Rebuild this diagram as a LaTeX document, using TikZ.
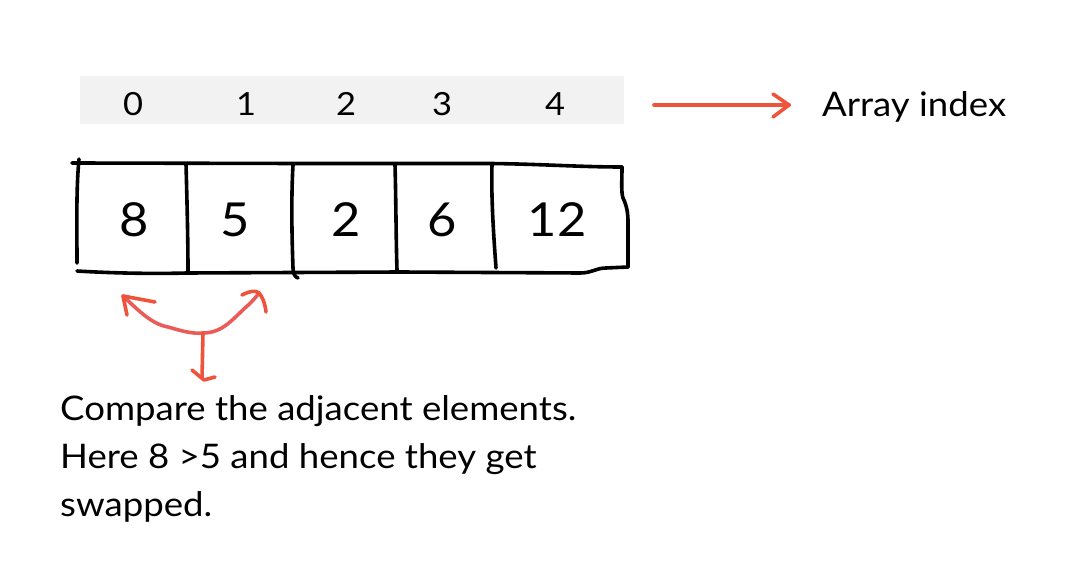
\documentclass[tikz,border=0pt]{standalone}
\usepackage{fontspec}
\setmainfont{Lato}[FakeStretch=1.08]
\definecolor{arrred}{HTML}{F0533B}
\definecolor{curvered}{HTML}{EA5C58}
\definecolor{bandgrey}{HTML}{F2F2F2}
\begin{document}
\begin{tikzpicture}[x=1bp,y=-1bp,
  ink/.style={line width=3.6bp,line cap=round,line join=round,black},
  redink/.style={line width=3.6bp,line cap=round,line join=round,arrred},
  idx/.style={font=\fontsize{32}{36}\selectfont,inner sep=0pt,anchor=base},
  cell/.style={font=\fontsize{47}{50}\selectfont,inner sep=0pt,anchor=base},
  note/.style={font=\fontsize{34}{48}\selectfont,inner sep=0pt,anchor=base west}]
\useasboundingbox (0,0) rectangle (1072,568);
\fill[white] (0,0) rectangle (1072,568);
% index band
\fill[bandgrey] (80,76) rectangle (624,124);
\node[idx] (i0) at (133,116) {0};
\node[idx] (i1) at (246,116) {1};
\node[idx] (i2) at (346,116) {2};
\node[idx] (i3) at (442,116) {3};
\node[idx] (i4) at (555,116) {4};
\coordinate (arrA) at (654,105);
\coordinate (arrB) at (789,105);
\node[note] (lbl) at (822,117) {Array index};
\draw[redink] (arrA) -- (arrB);
\draw[redink] (773,94) -- (arrB) -- (773,117);
% array outline (hand drawn)
\draw[ink] (72,163) -- (300,163.5) -- (490,163.5) .. controls (540,164) and (580,167) .. (622,167);
\draw[ink] (79,159) .. controls (76,190) and (77,230) .. (77,263);
\draw[ink] (77,271) .. controls (110,273) and (150,274) .. (187,273) -- (400,272) -- (580,273) .. controls (592,273) and (596,268) .. (606,268) -- (628,267);
\draw[ink] (622,167) .. controls (622,180) and (621,192) .. (623,198) .. controls (627,206) and (628,214) .. (628,222) -- (628,267);
\draw[ink] (186,164) .. controls (187,200) and (188,240) .. (188,272);
\draw[ink] (293,165) .. controls (291,200) and (292,240) .. (293,268) .. controls (293,274) and (295,277) .. (298,278);
\draw[ink] (395,165) .. controls (396,200) and (396,240) .. (397,270);
\draw[ink] (492,165) .. controls (491,200) and (494,240) .. (496,268);
\node[cell] (c0) at (134,237) {8};
\node[cell] (c1) at (235,237) {5};
\node[cell] (c2) at (346,237) {2};
\node[cell] (c3) at (442,237) {6};
\node[cell] (c4) at (557,237) {12};
% swap arrows
\coordinate (lt) at (123,296);
\coordinate (rt) at (259,293);
\coordinate (mid) at (203,333);
\coordinate (dn) at (204,380);
\draw[line width=3.6bp,line cap=round,curvered] (lt) .. controls (140,312) and (152,324) .. (168,327) .. controls (182,331) and (192,334) .. (mid) .. controls (222,333) and (232,320) .. (246,307) .. controls (252,302) and (256,297) .. (rt);
\draw[redink] (155,302) -- (lt) -- (127,315);
\draw[redink] (242,295) .. controls (250,291) and (256,290) .. (rt) .. controls (262,296) and (265,303) .. (266,312);
\draw[redink] (mid) -- (202,378);
\draw[redink] (192,370) -- (dn) -- (215,377);
% note
\node[note] (t1) at (60,420) {Compare the adjacent elements.};
\node[note] (t2) at (60,468) {Here 8 >5 and hence they get};
\node[note] (t3) at (60,516) {swapped.};
\end{tikzpicture}
\end{document}
